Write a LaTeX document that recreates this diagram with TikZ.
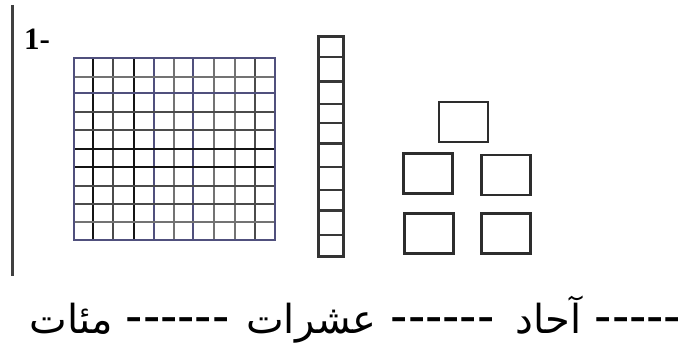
\documentclass[tikz,border=0pt]{standalone}
\usepackage{fontspec}
\setmainfont{Liberation Serif}
\newfontfamily\arabicfont[Script=Arabic]{DejaVu Sans}
\newfontfamily\dashfont{Liberation Sans}
\TeXXeTstate=1
\definecolor{gridblue}{RGB}{80,80,125}
\definecolor{gridblack}{RGB}{20,20,20}
\definecolor{gridgray}{RGB}{75,75,75}
\definecolor{gridlight}{RGB}{115,115,115}
\definecolor{boxline}{RGB}{45,45,45}
\tikzset{
  unitbox/.style={draw=boxline, line width=2.8pt, minimum width=49pt, minimum height=40pt, inner sep=0pt},
  arword/.style={anchor=base, inner sep=0pt, font=\arabicfont\fontsize{40}{40}\selectfont},
  dashrun/.style={anchor=base west, inner sep=0pt, font=\dashfont\fontsize{52}{52}\selectfont},
}
\begin{document}
\begin{tikzpicture}[x=1pt,y=-1pt]
\useasboundingbox (0,0) rectangle (688,350);
% left margin bar
\draw[line width=3pt, black!75] (12,5) coordinate (bartop) -- (12,276) coordinate (barbot);
% label
\node[anchor=base west, inner sep=0pt, font=\bfseries\fontsize{31}{31}\selectfont] (num) at (24,50) {1-};
% hundreds flat
\foreach \x/\c in {93.3/gridblack,113.3/gridgray,134.3/gridblack,154.3/gridblue,174.3/gridlight,193.3/gridblue,214.3/gridlight,235/gridlight,255/gridgray}
  \draw[\c, line width=2.1pt] (\x,58.3) -- (\x,240);
\foreach \y/\c in {76.7/gridlight,93.3/gridblue,111.7/gridgray,130/gridgray,149.3/gridblack,167.3/gridblack,186/gridgray,204/gridgray,221.7/gridlight}
  \draw[\c, line width=2.1pt] (74.3,\y) -- (275,\y);
\draw[gridblue, line width=2.3pt] (74.3,58.3) rectangle (275,240);
\node[inner sep=0pt, minimum width=200pt, minimum height=182pt] (flat) at (174.6,149.1) {};
% tens rod
\foreach \y/\w in {56.7/2,81.7/3,104.3/2.2,123.3/2.2,143.6/3.2,167/2,190/2,210.7/3.2,235/2.2}
  \draw[black!78, line width=\w pt] (318.5,\y) -- (343.8,\y);
\draw[black!80, line width=2.8pt] (318.5,36.2) rectangle (343.8,256.8);
\node[inner sep=0pt, minimum width=25pt, minimum height=220pt] (rod) at (331.2,146.5) {};
% ones
\node[unitbox] (u1) at (463.5,122) {};
\node[unitbox] (u2) at (428,173.5) {};
\node[unitbox] (u3) at (506,175) {};
\node[unitbox] (u4) at (429,233.5) {};
\node[unitbox] (u5) at (506,233.5) {};
% bottom line of text
\node[arword] (mi) at (71.5,333) {\beginR مئات\endR};
\node[dashrun] (d1) at (125.5,333) {------};
\node[arword] (ash) at (311.5,333) {\beginR عشرات\endR};
\node[dashrun] (d2) at (390.5,333) {------};
\node[arword] (ah) at (548.5,333) {\beginR آحاد\endR};
\node[dashrun] (d3) at (594.5,333) {-----};
\end{tikzpicture}
\end{document}
